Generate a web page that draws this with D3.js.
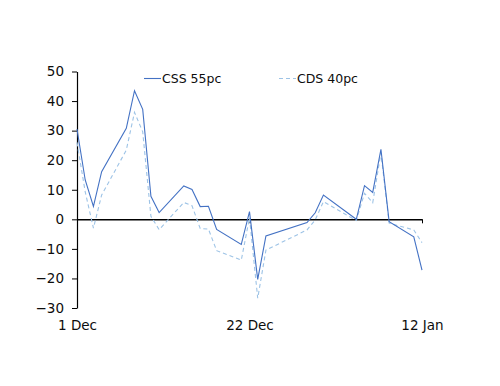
<!DOCTYPE html>
<html>
<head>
<meta charset="utf-8">
<script src="https://cdn.jsdelivr.net/npm/d3@7"></script>
<style>
  html, body { margin: 0; padding: 0; background: #fff; }
  svg { display: block; }
  text { font-family: "DejaVu Sans", Verdana, sans-serif; }
</style>
</head>
<body>
<svg id="chart" width="500" height="386"></svg>
<script>
const dates = ["2020-12-01","2020-12-02","2020-12-03","2020-12-04","2020-12-07","2020-12-08","2020-12-09","2020-12-10","2020-12-11",
  "2020-12-14","2020-12-15","2020-12-16","2020-12-17","2020-12-18","2020-12-21","2020-12-22","2020-12-23","2020-12-24",
  "2020-12-29","2020-12-30","2020-12-31","2021-01-04","2021-01-05","2021-01-06","2021-01-07","2021-01-08","2021-01-11","2021-01-12"];
const css55 = [30.5, 13.3, 4.4, 16.1, 30.8, 43.5, 37.2, 7.8, 2.3, 11.3, 10.1, 4.3, 4.4, -3.4, -8.5, 2.6, -20.3, -5.6,
  -1.1, 2.2, 8.2, 0.0, 11.4, 9.1, 23.7, -0.8, -5.9, -17.2];
const cds40 = [26.0, 9.3, -3.0, 8.2, 23.4, 36.2, 29.6, 1.0, -3.5, 5.7, 4.6, -3.1, -3.3, -10.6, -13.8, 0.5, -26.7, -10.4,
  -3.6, -0.2, 6.0, -0.4, 8.8, 5.6, 22.5, -1.3, -3.6, -7.9];
const seriesNames = ["CSS 55pc", "CDS 40pc"];
const yTicks = [-30, -20, -10, 0, 10, 20, 30, 40, 50];
const xTickDates = ["2020-12-01", "2020-12-22", "2021-01-12"];
const xTickLabels = ["1 Dec", "22 Dec", "12 Jan"];

const parse = d3.utcParse("%Y-%m-%d");
const svg = d3.select("#chart");

const x = d3.scaleUtc().domain([parse("2020-12-01"), parse("2021-01-12")]).range([77, 422]);
const y = d3.scaleLinear().domain([-30, 50]).range([308, 71.5]);

const colors = ["#4472C4", "#9DC3E6"];
const fontStack = "'DejaVu Sans', Verdana, sans-serif";

// Y axis
const yAxis = svg.append("g").attr("transform", "translate(77,0)")
  .call(d3.axisLeft(y).tickValues(yTicks).tickSize(5).tickSizeOuter(0).tickPadding(8));
yAxis.select(".domain").attr("stroke", "#000").attr("stroke-width", 1.2);
yAxis.selectAll(".tick line").attr("stroke", "#000");
yAxis.selectAll(".tick text").attr("font-size", 13.5).attr("fill", "#0d0d0d")
  .style("font-family", fontStack);

// X axis line at zero (ticks only)
const xAxis = svg.append("g").attr("transform", `translate(0,${y(0)})`)
  .call(d3.axisBottom(x).tickValues(xTickDates.map(parse)).tickSize(4).tickSizeOuter(0).tickFormat(""));
xAxis.select(".domain").attr("stroke", "#000").attr("stroke-width", 1.5);
xAxis.selectAll(".tick line").attr("stroke", "#000");

// X labels at the bottom
const xLab = svg.append("g").attr("transform", `translate(0,${y(-30)})`)
  .call(d3.axisBottom(x).tickValues(xTickDates.map(parse)).tickSize(0).tickPadding(12)
    .tickFormat((d, i) => xTickLabels[i]));
xLab.select(".domain").remove();
xLab.selectAll(".tick text").attr("font-size", 13.5).attr("fill", "#0d0d0d")
  .style("font-family", fontStack);

// Lines
const line = d3.line().x(d => x(d[0])).y(d => y(d[1]));
const d1 = dates.map((d, i) => [parse(d), css55[i]]);
const d2 = dates.map((d, i) => [parse(d), cds40[i]]);

svg.append("path").datum(d2).attr("d", line).attr("fill", "none")
  .attr("stroke", colors[1]).attr("stroke-width", 1.1).attr("stroke-dasharray", "4,3");
svg.append("path").datum(d1).attr("d", line).attr("fill", "none")
  .attr("stroke", colors[0]).attr("stroke-width", 1.1);

// Legend
const leg = svg.append("g");
const legItems = [{x: 144, dash: null}, {x: 279, dash: "4,3"}];
legItems.forEach((it, i) => {
  leg.append("line").attr("x1", it.x).attr("x2", it.x + 17).attr("y1", 78.5).attr("y2", 78.5)
    .attr("stroke", colors[i]).attr("stroke-width", 1.1).attr("stroke-dasharray", it.dash);
  leg.append("text").attr("x", it.x + 18).attr("y", 83).attr("font-size", 12.5).attr("fill", "#0d0d0d")
    .text(seriesNames[i]);
});
</script>
</body>
</html>
